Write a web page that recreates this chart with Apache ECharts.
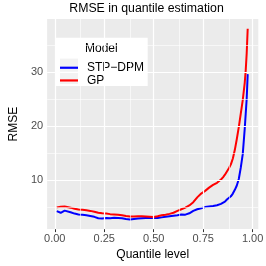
<!DOCTYPE html>
<html>
<head>
<meta charset="utf-8">
<script src="https://cdn.jsdelivr.net/npm/echarts@6/dist/echarts.min.js"></script>
<style>
html,body{margin:0;padding:0;background:#fff;}
#chart{width:266px;height:266px;}
</style>
</head>
<body>
<div id="chart"></div>
<script>
var quantileLevels = [0.01,0.02,0.03,0.04,0.05,0.06,0.08,0.10,0.12,0.14,0.16,0.18,0.20,0.22,0.24,0.26,0.28,0.30,0.32,0.34,0.36,0.38,0.40,0.42,0.44,0.46,0.48,0.50,0.52,0.54,0.56,0.58,0.60,0.62,0.64,0.66,0.68,0.70,0.72,0.74,0.76,0.78,0.80,0.82,0.84,0.85,0.86,0.87,0.88,0.89,0.90,0.91,0.92,0.93,0.94,0.95,0.96,0.965,0.97,0.975];
var stpDpmRMSE = [4.25,4.0,3.95,4.3,4.35,4.25,4.05,3.8,3.65,3.6,3.5,3.35,3.2,2.95,2.9,3.0,2.95,3.05,3.0,2.95,2.8,2.7,2.8,2.9,2.95,3.0,3.0,3.0,3.0,3.1,3.2,3.3,3.4,3.5,3.65,3.6,3.85,4.3,4.6,4.8,5.0,5.1,5.2,5.35,5.6,5.8,6.0,6.4,6.7,7.0,7.5,8.2,9.0,10.2,12.3,14.8,19.5,22.3,25.1,29.6];
var gpRMSE = [4.95,5.0,5.05,5.15,5.1,5.05,4.9,4.7,4.55,4.5,4.4,4.3,4.15,3.95,3.85,3.8,3.7,3.65,3.6,3.5,3.35,3.25,3.25,3.3,3.3,3.25,3.2,3.15,3.3,3.5,3.6,3.75,3.95,4.3,4.6,4.9,5.3,5.9,6.8,7.5,8.0,8.6,9.1,9.5,10.1,10.5,11.0,11.6,12.2,12.9,14.0,15.6,17.6,19.8,22.3,24.8,28.0,30.3,33.5,38.0];
var seriesNames = ['STP\u2212DPM', 'GP'];
var xTickValues = [0, 0.25, 0.5, 0.75, 1];
var xMinorValues = [0.125, 0.375, 0.625, 0.875];
var yTickValues = [10, 20, 30];
var yMinorValues = [5, 15, 25, 35];

var FONT = 'Liberation Sans, Arial, sans-serif';
function pairs(ys){ return quantileLevels.map(function(x,i){ return [x, ys[i]]; }); }

var gridLines = [];
xTickValues.forEach(function(v){ gridLines.push({xAxis: v, lineStyle:{color:'#FFFFFF', width:1.2, type:'solid'}}); });
xMinorValues.forEach(function(v){ gridLines.push({xAxis: v, lineStyle:{color:'#FFFFFF', width:0.6, type:'solid'}}); });
yTickValues.forEach(function(v){ gridLines.push({yAxis: v, lineStyle:{color:'#FFFFFF', width:1.2, type:'solid'}}); });
yMinorValues.forEach(function(v){ gridLines.push({yAxis: v, lineStyle:{color:'#FFFFFF', width:0.6, type:'solid'}}); });

var chart = echarts.init(document.getElementById('chart'), null, {renderer:'canvas'});
chart.setOption({
  animation: false,
  title: {
    text: 'RMSE in quantile estimation',
    left: 146.5, top: 3, textAlign: 'center', padding: 0,
    textStyle: {fontFamily: FONT, fontSize: 12.3, fontWeight: 'normal', color: '#000'}
  },
  grid: {left: 34, right: 7, top: 19, bottom: 33.5, show: true, backgroundColor: '#EBEBEB', borderWidth: 0, containLabel: false},
  legend: {
    orient: 'vertical', left: 60, top: 61.4, itemWidth: 18, itemHeight: 2.2, itemGap: 0, padding: 0, z: 5,
    icon: 'rect',
    data: seriesNames,
    textStyle: {fontFamily: FONT, fontSize: 12, color: '#000', lineHeight: 12.7, padding: [0,0,0,4]}
  },
  graphic: [
    {type:'rect', z: 3, shape:{x:55, y:37.7, width:92.7, height:48.3}, style:{fill:'#FFFFFF'}},
    {type:'rect', z: 3, shape:{x:60, y:58.6, width:18, height:12.7}, style:{fill:'#F2F2F2'}},
    {type:'rect', z: 3, shape:{x:60, y:71.3, width:18, height:12.7}, style:{fill:'#F2F2F2'}},
    {type:'text', z: 4, x: 85, y: 48.5, style:{text:'Model', font: '12px ' + FONT, fill:'#000', verticalAlign:'middle', align:'left'}}
  ],
  xAxis: {
    type: 'value', min: -0.0385, max: 1.0285,
    axisLine: {show: false},
    axisTick: {show: true, customValues: xTickValues, length: 3, lineStyle: {color: '#333333', width: 1}},
    axisLabel: {customValues: xTickValues, formatter: function(v){ return v.toFixed(2); }, color: '#4D4D4D', fontSize: 11, fontFamily: FONT, margin: 4},
    splitLine: {show: false},
    name: 'Quantile level', nameLocation: 'middle', nameGap: 16,
    nameTextStyle: {fontFamily: FONT, fontSize: 12, color: '#000'}
  },
  yAxis: {
    type: 'value', min: 0.93, max: 39.8,
    axisLine: {show: false},
    axisTick: {show: true, customValues: yTickValues, length: 3, lineStyle: {color: '#333333', width: 1}},
    axisLabel: {customValues: yTickValues, formatter: function(v){ return String(v); }, color: '#4D4D4D', fontSize: 11, fontFamily: FONT, margin: 4},
    splitLine: {show: false},
    name: 'RMSE', nameLocation: 'middle', nameGap: 18, nameRotate: 90,
    nameTextStyle: {fontFamily: FONT, fontSize: 12, color: '#000'}
  },
  series: [
    {type: 'line', name: '_grid', data: [], z: 1, silent: true,
     markLine: {silent: true, symbol: ['none','none'], label: {show: false}, animation: false, data: gridLines}},
    {type: 'line', name: seriesNames[0], data: pairs(stpDpmRMSE), symbol: 'none', z: 2,
     lineStyle: {color: '#0000FF', width: 2}, itemStyle: {color: '#0000FF'}},
    {type: 'line', name: seriesNames[1], data: pairs(gpRMSE), symbol: 'none', z: 3,
     lineStyle: {color: '#FF0000', width: 2}, itemStyle: {color: '#FF0000'}}
  ]
});
</script>
</body>
</html>
